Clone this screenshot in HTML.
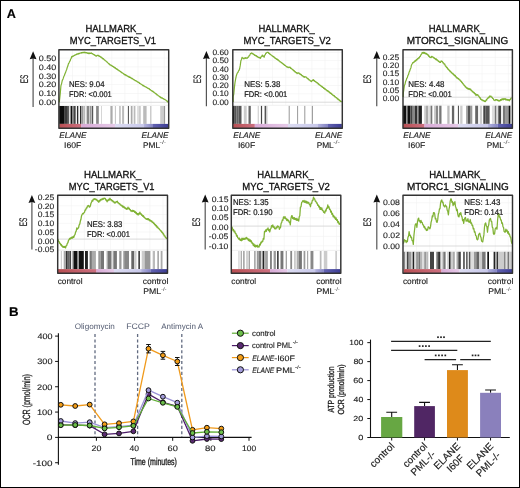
<!DOCTYPE html>
<html><head><meta charset="utf-8"><style>html,body{margin:0;padding:0;background:#fff;width:520px;height:488px;overflow:hidden;}svg{display:block;will-change:transform;}text{font-family:"Liberation Sans", sans-serif;text-rendering:geometricPrecision;}</style></head>
<body>
<svg width="520" height="488" viewBox="0 0 520 488" font-family='"Liberation Sans", sans-serif'>
<rect x="0" y="0" width="520" height="488" fill="#ffffff"/>
<text x="6.88" y="17.60" font-size="12.6" textLength="9.16" lengthAdjust="spacingAndGlyphs" font-weight="bold" fill="#000" stroke="#000" stroke-width="0.15">A</text>
<text x="8.94" y="316.30" font-size="12.6" textLength="9.59" lengthAdjust="spacingAndGlyphs" font-weight="bold" fill="#000" stroke="#000" stroke-width="0.15">B</text>
<path d="M72.5 49.7V105.0 M85.6 49.7V105.0 M98.7 49.7V105.0 M111.8 49.7V105.0 M124.9 49.7V105.0 M138.0 49.7V105.0 M151.1 49.7V105.0 M164.2 49.7V105.0 M58.9 58.1H168.7 M58.9 66.9H168.7 M58.9 75.8H168.7 M58.9 84.6H168.7 M58.9 93.5H168.7" stroke="#f1f1f1" stroke-width="0.6" fill="none"/>
<path d="M58.9 102.3H168.7" stroke="#d2d2d2" stroke-width="0.8"/>
<path d="M58.9 105.4H168.7" stroke="#ececec" stroke-width="0.8"/>
<rect x="59.20" y="106.00" width="5.50" height="17.90" fill="#0a0a0a"/><rect x="64.70" y="106.00" width="3.00" height="17.90" fill="#3a3a3a"/><rect x="67.70" y="106.00" width="1.10" height="17.90" fill="#101010"/><rect x="68.80" y="106.00" width="1.30" height="17.90" fill="#dddddd"/><rect x="70.10" y="106.00" width="0.80" height="17.90" fill="#888888"/><rect x="70.90" y="106.00" width="1.40" height="17.90" fill="#101010"/><rect x="72.30" y="106.00" width="1.60" height="17.90" fill="#777777"/><rect x="73.90" y="106.00" width="1.90" height="17.90" fill="#444444"/><rect x="75.80" y="106.00" width="1.30" height="17.90" fill="#f0f0f0"/><rect x="77.10" y="106.00" width="1.40" height="17.90" fill="#151515"/><rect x="78.50" y="106.00" width="1.60" height="17.90" fill="#f5f5f5"/><rect x="80.10" y="106.00" width="1.10" height="17.90" fill="#151515"/><rect x="81.20" y="106.00" width="2.10" height="17.90" fill="#999999"/><rect x="83.30" y="106.00" width="1.80" height="17.90" fill="#bbbbbb"/><rect x="85.10" y="106.00" width="1.60" height="17.90" fill="#eeeeee"/><rect x="86.70" y="106.00" width="2.40" height="17.90" fill="#888888"/><rect x="89.10" y="106.00" width="0.80" height="17.90" fill="#cccccc"/><rect x="89.90" y="106.00" width="1.10" height="17.90" fill="#999999"/><rect x="91.00" y="106.00" width="1.00" height="17.90" fill="#bbbbbb"/><rect x="92.00" y="106.00" width="1.20" height="17.90" fill="#555555"/><rect x="96.10" y="106.00" width="2.70" height="17.90" fill="#888888"/><rect x="101.00" y="106.00" width="0.80" height="17.90" fill="#cccccc"/><rect x="110.40" y="106.00" width="2.20" height="17.90" fill="#aaaaaa"/><rect x="114.90" y="106.00" width="0.90" height="17.90" fill="#bbbbbb"/><rect x="119.20" y="106.00" width="1.50" height="17.90" fill="#bbbbbb"/><rect x="122.10" y="106.00" width="2.00" height="17.90" fill="#bbbbbb"/><rect x="127.90" y="106.00" width="0.90" height="17.90" fill="#333333"/><rect x="130.80" y="106.00" width="1.70" height="17.90" fill="#aaaaaa"/><rect x="133.70" y="106.00" width="1.70" height="17.90" fill="#bbbbbb"/><rect x="137.10" y="106.00" width="1.80" height="17.90" fill="#dddddd"/><rect x="138.90" y="106.00" width="1.90" height="17.90" fill="#cccccc"/><rect x="143.20" y="106.00" width="3.40" height="17.90" fill="#bbbbbb"/><rect x="150.00" y="106.00" width="1.50" height="17.90" fill="#cccccc"/><rect x="160.20" y="106.00" width="3.60" height="17.90" fill="#cccccc"/><rect x="163.80" y="106.00" width="1.30" height="17.90" fill="#999999"/>
<defs><linearGradient id="g0_0" gradientUnits="userSpaceOnUse" x1="59.20" y1="0" x2="81.40" y2="0"><stop offset="0" stop-color="#b84e52"/><stop offset="1" stop-color="#cc7080"/></linearGradient><linearGradient id="g0_1" gradientUnits="userSpaceOnUse" x1="81.40" y1="0" x2="115.00" y2="0"><stop offset="0" stop-color="#d8aad6"/><stop offset="1" stop-color="#e6cae8"/></linearGradient><linearGradient id="g0_2" gradientUnits="userSpaceOnUse" x1="115.00" y1="0" x2="144.00" y2="0"><stop offset="0" stop-color="#dcdcf2"/><stop offset="1" stop-color="#c8c8ea"/></linearGradient><linearGradient id="g0_3" gradientUnits="userSpaceOnUse" x1="144.00" y1="0" x2="153.00" y2="0"><stop offset="0" stop-color="#b4b4de"/><stop offset="1" stop-color="#8484c4"/></linearGradient><linearGradient id="g0_4" gradientUnits="userSpaceOnUse" x1="153.00" y1="0" x2="168.20" y2="0"><stop offset="0" stop-color="#6464b2"/><stop offset="1" stop-color="#3c3c94"/></linearGradient></defs><rect x="59.20" y="123.90" width="22.25" height="4.40" fill="url(#g0_0)"/><rect x="81.40" y="123.90" width="33.65" height="4.40" fill="url(#g0_1)"/><rect x="115.00" y="123.90" width="29.05" height="4.40" fill="url(#g0_2)"/><rect x="144.00" y="123.90" width="9.05" height="4.40" fill="url(#g0_3)"/><rect x="153.00" y="123.90" width="15.25" height="4.40" fill="url(#g0_4)"/>
<polyline points="59.30,102.30 60.20,94.21 60.90,85.94 61.60,83.59 62.30,80.36 63.05,78.91 63.80,76.58 64.38,75.51 64.95,73.70 65.52,72.66 66.10,70.87 66.67,69.49 67.25,67.45 67.83,66.08 68.40,63.77 68.97,63.12 69.53,61.65 70.10,60.98 70.67,59.00 71.23,58.30 71.80,56.48 72.38,56.77 72.97,55.96 73.55,56.14 74.13,55.30 74.72,55.36 75.30,54.75 75.88,54.88 76.46,54.13 77.04,54.41 77.62,53.75 78.20,54.08 78.78,53.38 79.36,53.66 79.94,53.06 80.52,53.14 81.10,52.62 81.67,53.03 82.23,52.43 82.80,52.80 83.37,52.26 83.93,52.70 84.50,52.20 85.08,52.86 85.67,52.37 86.25,52.99 86.83,52.66 87.42,53.32 88.00,52.86 88.57,53.51 89.13,53.00 89.70,53.57 90.27,53.05 90.83,53.43 91.40,52.89 91.98,53.70 92.57,53.62 93.15,54.33 93.73,54.24 94.32,55.18 94.90,54.93 95.50,55.99 96.10,55.90 96.67,56.10 97.23,55.23 97.80,55.47 98.44,55.36 99.08,56.33 99.72,56.04 100.36,57.04 101.00,56.91 101.62,57.80 102.24,57.82 102.86,58.87 103.48,58.67 104.10,59.83 104.68,59.82 105.26,60.76 105.84,60.77 106.42,61.71 107.00,61.86 107.58,62.79 108.16,62.99 108.74,63.80 109.32,63.86 109.90,64.86 110.52,64.87 111.14,65.64 111.76,65.44 112.38,66.29 113.00,66.26 113.56,67.14 114.11,66.91 114.67,67.96 115.22,67.67 115.78,68.58 116.33,68.54 116.89,69.36 117.44,69.18 118.00,70.26 118.58,70.14 119.15,70.87 119.72,70.92 120.30,71.68 120.88,71.65 121.45,72.57 122.03,72.51 122.60,73.23 123.18,73.27 123.75,74.12 124.33,74.03 124.90,75.06 125.48,74.70 126.07,75.55 126.65,75.32 127.23,76.19 127.82,76.06 128.40,76.85 128.96,76.50 129.51,77.48 130.07,77.14 130.63,78.00 131.18,77.88 131.74,78.57 132.30,78.46 132.85,79.20 133.41,79.24 133.97,79.88 134.52,79.85 135.08,80.55 135.64,80.52 136.19,81.11 136.75,81.14 137.30,81.81 137.85,81.81 138.40,82.52 138.95,82.40 139.50,83.39 140.05,83.31 140.60,84.02 141.15,83.98 141.70,84.77 142.25,84.76 142.80,85.61 143.35,85.27 143.90,86.24 144.48,86.05 145.07,86.75 145.65,86.75 146.23,87.41 146.82,87.31 147.40,88.13 148.00,88.04 148.60,88.75 149.20,88.67 149.80,89.70 150.40,89.69 151.00,90.52 151.60,90.54 152.20,91.34 152.80,91.12 153.40,92.24 153.99,92.05 154.58,92.99 155.18,93.03 155.77,93.87 156.36,93.83 156.95,94.86 157.54,94.73 158.13,95.71 158.72,95.77 159.32,96.73 159.91,96.48 160.50,97.64 161.10,97.27 161.70,98.23 162.30,97.89 162.90,98.68 163.50,98.55 164.10,99.31 164.70,99.27 165.30,99.83 165.88,99.97 166.46,100.81 167.04,100.78 167.62,101.90 168.20,102.00" fill="none" stroke="#80b234" stroke-width="1.2" stroke-linejoin="round"/>
<rect x="58.90" y="49.70" width="109.80" height="78.60" fill="none" stroke="#333" stroke-width="1.45" stroke-linejoin="round"/>
<text x="38.74" y="60.80" font-size="7.9" textLength="17.49" lengthAdjust="spacingAndGlyphs" fill="#262626" stroke="#262626" stroke-width="0.13">0.50</text>
<text x="38.74" y="69.60" font-size="7.9" textLength="17.49" lengthAdjust="spacingAndGlyphs" fill="#262626" stroke="#262626" stroke-width="0.13">0.40</text>
<text x="38.74" y="78.50" font-size="7.9" textLength="17.49" lengthAdjust="spacingAndGlyphs" fill="#262626" stroke="#262626" stroke-width="0.13">0.30</text>
<text x="38.74" y="87.30" font-size="7.9" textLength="17.49" lengthAdjust="spacingAndGlyphs" fill="#262626" stroke="#262626" stroke-width="0.13">0.20</text>
<text x="38.74" y="96.20" font-size="7.9" textLength="17.49" lengthAdjust="spacingAndGlyphs" fill="#262626" stroke="#262626" stroke-width="0.13">0.10</text>
<text x="38.74" y="105.00" font-size="7.9" textLength="17.49" lengthAdjust="spacingAndGlyphs" fill="#262626" stroke="#262626" stroke-width="0.13">0.00</text>
<path d="M33.10 56.50V106.90" stroke="#555" stroke-width="1.2"/>
<path d="M33.10 51.30L36.50 59.30L33.10 58.50L29.70 59.30Z" fill="#111"/>
<text transform="translate(27.69,83.22) rotate(-90)" x="0" y="0" font-size="11.13" textLength="8.64" lengthAdjust="spacingAndGlyphs" fill="#1a1a1a" stroke="#1a1a1a" stroke-width="0.15">ES</text>
<text x="85.44" y="32.00" font-size="10.2" textLength="56.13" lengthAdjust="spacingAndGlyphs" fill="#111" stroke="#111" stroke-width="0.3">HALLMARK_</text>
<text x="69.85" y="43.80" font-size="10.2" textLength="86.18" lengthAdjust="spacingAndGlyphs" fill="#111" stroke="#111" stroke-width="0.3">MYC_TARGETS_V1</text>
<text x="68.98" y="87.20" font-size="8.3" textLength="35.58" lengthAdjust="spacingAndGlyphs" fill="#1a1a1a" stroke="#1a1a1a" stroke-width="0.22">NES: 9.04</text>
<text x="69.00" y="96.70" font-size="8.3" textLength="42.76" lengthAdjust="spacingAndGlyphs" fill="#1a1a1a" stroke="#1a1a1a" stroke-width="0.22">FDR: &lt;0.001</text>
<text x="59.25" y="138.30" font-size="8.3" textLength="27.20" lengthAdjust="spacingAndGlyphs" font-style="italic" fill="#222" stroke="#222" stroke-width="0.14">ELANE</text>
<text x="64.03" y="148.00" font-size="8.3" textLength="17.23" lengthAdjust="spacingAndGlyphs" fill="#222" stroke="#222" stroke-width="0.14">I60F</text>
<text x="141.45" y="138.30" font-size="8.3" textLength="27.10" lengthAdjust="spacingAndGlyphs" font-style="italic" fill="#222" stroke="#222" stroke-width="0.14">ELANE</text>
<text x="143.03" y="148.00" font-size="8.3" textLength="17.13" lengthAdjust="spacingAndGlyphs" fill="#222" stroke="#222" stroke-width="0.14">PML</text>
<text x="159.58" y="143.90" font-size="5.0" textLength="6.62" lengthAdjust="spacingAndGlyphs" fill="#444" stroke="#444" stroke-width="0.02">-/-</text>
<path d="M246.4 49.7V104.9 M259.5 49.7V104.9 M272.6 49.7V104.9 M285.7 49.7V104.9 M298.8 49.7V104.9 M311.9 49.7V104.9 M325.0 49.7V104.9 M338.1 49.7V104.9 M232.8 52.5H342.3 M232.8 60.6H342.3 M232.8 68.9H342.3 M232.8 77.2H342.3 M232.8 85.5H342.3 M232.8 93.8H342.3" stroke="#f1f1f1" stroke-width="0.6" fill="none"/>
<path d="M232.8 102.2H342.3" stroke="#d2d2d2" stroke-width="0.8"/>
<path d="M232.8 105.3H342.3" stroke="#ececec" stroke-width="0.8"/>
<rect x="232.90" y="105.90" width="1.70" height="18.00" fill="#111111"/><rect x="234.60" y="105.90" width="1.70" height="18.00" fill="#555555"/><rect x="236.30" y="105.90" width="2.40" height="18.00" fill="#666666"/><rect x="238.70" y="105.90" width="2.80" height="18.00" fill="#555555"/><rect x="243.80" y="105.90" width="2.90" height="18.00" fill="#cccccc"/><rect x="248.50" y="105.90" width="2.30" height="18.00" fill="#666666"/><rect x="257.70" y="105.90" width="1.10" height="18.00" fill="#cccccc"/><rect x="260.90" y="105.90" width="1.20" height="18.00" fill="#444444"/><rect x="264.60" y="105.90" width="1.70" height="18.00" fill="#555555"/><rect x="266.30" y="105.90" width="1.20" height="18.00" fill="#cccccc"/><rect x="288.70" y="105.90" width="1.00" height="18.00" fill="#999999"/><rect x="297.10" y="105.90" width="1.00" height="18.00" fill="#999999"/><rect x="304.30" y="105.90" width="1.00" height="18.00" fill="#999999"/><rect x="311.80" y="105.90" width="1.00" height="18.00" fill="#888888"/>
<defs><linearGradient id="g1_0" gradientUnits="userSpaceOnUse" x1="232.90" y1="0" x2="254.80" y2="0"><stop offset="0" stop-color="#b84e52"/><stop offset="1" stop-color="#cc7080"/></linearGradient><linearGradient id="g1_1" gradientUnits="userSpaceOnUse" x1="254.80" y1="0" x2="288.00" y2="0"><stop offset="0" stop-color="#d8aad6"/><stop offset="1" stop-color="#e6cae8"/></linearGradient><linearGradient id="g1_2" gradientUnits="userSpaceOnUse" x1="288.00" y1="0" x2="317.40" y2="0"><stop offset="0" stop-color="#dcdcf2"/><stop offset="1" stop-color="#c8c8ea"/></linearGradient><linearGradient id="g1_3" gradientUnits="userSpaceOnUse" x1="317.40" y1="0" x2="327.30" y2="0"><stop offset="0" stop-color="#b4b4de"/><stop offset="1" stop-color="#8484c4"/></linearGradient><linearGradient id="g1_4" gradientUnits="userSpaceOnUse" x1="327.30" y1="0" x2="341.80" y2="0"><stop offset="0" stop-color="#6464b2"/><stop offset="1" stop-color="#3c3c94"/></linearGradient></defs><rect x="232.90" y="123.90" width="21.95" height="4.40" fill="url(#g1_0)"/><rect x="254.80" y="123.90" width="33.25" height="4.40" fill="url(#g1_1)"/><rect x="288.00" y="123.90" width="29.45" height="4.40" fill="url(#g1_2)"/><rect x="317.40" y="123.90" width="9.95" height="4.40" fill="url(#g1_3)"/><rect x="327.30" y="123.90" width="14.55" height="4.40" fill="url(#g1_4)"/>
<polyline points="233.20,102.00 233.20,96.92 233.80,93.86 234.40,87.39 235.00,82.69 235.60,79.08 236.18,76.28 236.75,74.55 237.33,72.92 237.92,72.51 238.50,70.91 239.10,70.29 239.70,68.50 240.30,65.16 240.90,60.70 241.50,59.48 242.10,57.28 242.70,58.06 243.30,58.07 243.90,58.97 244.50,57.95 245.10,58.30 245.70,57.52 246.25,58.33 246.80,58.05 247.40,58.14 248.00,57.10 248.60,57.16 249.20,55.58 249.80,55.20 250.40,53.62 251.00,53.30 251.60,52.89 252.20,53.89 252.80,53.38 253.39,54.29 253.98,54.33 254.57,55.33 255.16,55.00 255.75,55.91 256.34,55.63 256.93,56.74 257.52,56.41 258.11,57.55 258.70,57.26 259.30,57.96 259.90,57.49 260.50,58.29 261.10,56.82 261.70,56.48 262.30,55.04 262.90,56.26 263.50,55.97 264.10,57.30 264.67,55.40 265.23,54.71 265.80,53.10 266.40,53.24 267.00,52.26 267.60,52.37 268.20,52.26 268.80,53.47 269.40,53.29 270.00,54.35 270.60,54.39 271.20,55.25 271.75,55.25 272.31,56.13 272.86,56.02 273.41,56.96 273.97,56.70 274.52,57.92 275.07,57.70 275.63,58.57 276.18,58.50 276.73,59.45 277.29,59.06 277.84,60.11 278.39,59.92 278.95,60.94 279.50,60.95 280.08,61.93 280.65,61.76 281.23,62.66 281.81,62.63 282.38,63.59 282.96,63.55 283.54,64.56 284.12,64.46 284.69,65.51 285.27,65.40 285.85,66.27 286.42,66.37 287.00,67.18 287.60,66.89 288.20,67.66 288.80,67.21 289.40,67.30 289.95,67.08 290.50,68.33 291.05,68.16 291.60,68.93 292.15,69.02 292.70,69.92 293.25,69.78 293.80,70.92 294.35,70.73 294.90,71.87 295.45,71.72 296.00,72.71 296.55,72.54 297.10,73.61 297.70,72.79 298.30,73.14 298.89,72.76 299.48,74.03 300.07,73.70 300.66,74.66 301.25,74.46 301.84,75.62 302.43,75.60 303.02,76.55 303.61,76.36 304.20,77.39 304.80,76.70 305.40,76.89 305.99,76.86 306.58,77.95 307.17,77.95 307.76,78.90 308.35,78.73 308.94,79.94 309.53,79.77 310.12,80.81 310.71,80.76 311.30,81.72 311.90,80.72 312.50,80.65 313.10,79.62 313.66,80.60 314.22,80.31 314.78,81.44 315.34,81.38 315.89,82.24 316.45,82.13 317.01,83.03 317.57,82.84 318.13,84.09 318.69,83.85 319.25,84.95 319.81,84.81 320.36,85.68 320.92,85.59 321.48,86.70 322.04,86.42 322.60,87.35 323.16,87.28 323.72,88.46 324.28,88.08 324.84,89.30 325.39,88.84 325.95,89.92 326.51,89.88 327.07,90.86 327.63,90.52 328.19,91.64 328.75,91.36 329.31,92.62 329.86,92.32 330.42,93.38 330.98,93.03 331.54,94.27 332.10,94.06 332.66,95.16 333.22,95.00 333.78,95.92 334.34,95.67 334.89,96.97 335.45,96.77 336.01,97.71 336.57,97.59 337.13,98.78 337.69,98.47 338.25,99.71 338.81,99.37 339.36,100.58 339.92,100.31 340.48,101.35 341.04,101.27 341.60,102.00" fill="none" stroke="#80b234" stroke-width="1.2" stroke-linejoin="round"/>
<rect x="232.80" y="49.70" width="109.50" height="78.60" fill="none" stroke="#333" stroke-width="1.45" stroke-linejoin="round"/>
<text x="212.46" y="55.10" font-size="7.9" textLength="16.34" lengthAdjust="spacingAndGlyphs" fill="#262626" stroke="#262626" stroke-width="0.13">0.60</text>
<text x="212.46" y="63.30" font-size="7.9" textLength="16.34" lengthAdjust="spacingAndGlyphs" fill="#262626" stroke="#262626" stroke-width="0.13">0.50</text>
<text x="212.46" y="71.60" font-size="7.9" textLength="16.34" lengthAdjust="spacingAndGlyphs" fill="#262626" stroke="#262626" stroke-width="0.13">0.40</text>
<text x="212.46" y="79.90" font-size="7.9" textLength="16.34" lengthAdjust="spacingAndGlyphs" fill="#262626" stroke="#262626" stroke-width="0.13">0.30</text>
<text x="212.46" y="88.20" font-size="7.9" textLength="16.34" lengthAdjust="spacingAndGlyphs" fill="#262626" stroke="#262626" stroke-width="0.13">0.20</text>
<text x="212.46" y="96.40" font-size="7.9" textLength="16.34" lengthAdjust="spacingAndGlyphs" fill="#262626" stroke="#262626" stroke-width="0.13">0.10</text>
<text x="212.46" y="104.70" font-size="7.9" textLength="16.34" lengthAdjust="spacingAndGlyphs" fill="#262626" stroke="#262626" stroke-width="0.13">0.00</text>
<path d="M206.40 56.20V106.30" stroke="#555" stroke-width="1.2"/>
<path d="M206.40 51.00L209.80 59.00L206.40 58.20L203.00 59.00Z" fill="#111"/>
<text transform="translate(200.79,83.31) rotate(-90)" x="0" y="0" font-size="10.85" textLength="8.52" lengthAdjust="spacingAndGlyphs" fill="#1a1a1a" stroke="#1a1a1a" stroke-width="0.15">ES</text>
<text x="258.44" y="32.00" font-size="10.2" textLength="56.33" lengthAdjust="spacingAndGlyphs" fill="#111" stroke="#111" stroke-width="0.3">HALLMARK_</text>
<text x="243.44" y="43.80" font-size="10.2" textLength="87.35" lengthAdjust="spacingAndGlyphs" fill="#111" stroke="#111" stroke-width="0.3">MYC_TARGETS_V2</text>
<text x="244.16" y="86.60" font-size="8.3" textLength="36.28" lengthAdjust="spacingAndGlyphs" fill="#1a1a1a" stroke="#1a1a1a" stroke-width="0.22">NES: 5.38</text>
<text x="244.19" y="96.50" font-size="8.3" textLength="43.16" lengthAdjust="spacingAndGlyphs" fill="#1a1a1a" stroke="#1a1a1a" stroke-width="0.22">FDR: &lt;0.001</text>
<text x="233.15" y="138.30" font-size="8.3" textLength="27.20" lengthAdjust="spacingAndGlyphs" font-style="italic" fill="#222" stroke="#222" stroke-width="0.14">ELANE</text>
<text x="237.93" y="148.00" font-size="8.3" textLength="17.23" lengthAdjust="spacingAndGlyphs" fill="#222" stroke="#222" stroke-width="0.14">I60F</text>
<text x="315.05" y="138.30" font-size="8.3" textLength="27.10" lengthAdjust="spacingAndGlyphs" font-style="italic" fill="#222" stroke="#222" stroke-width="0.14">ELANE</text>
<text x="316.63" y="148.00" font-size="8.3" textLength="17.13" lengthAdjust="spacingAndGlyphs" fill="#222" stroke="#222" stroke-width="0.14">PML</text>
<text x="333.18" y="143.90" font-size="5.0" textLength="6.62" lengthAdjust="spacingAndGlyphs" fill="#444" stroke="#444" stroke-width="0.02">-/-</text>
<path d="M416.6 49.7V104.7 M429.7 49.7V104.7 M442.8 49.7V104.7 M455.9 49.7V104.7 M469.0 49.7V104.7 M482.1 49.7V104.7 M495.2 49.7V104.7 M508.3 49.7V104.7 M403.0 57.4H512.4 M403.0 65.5H512.4 M403.0 73.8H512.4 M403.0 81.9H512.4 M403.0 90.1H512.4" stroke="#f1f1f1" stroke-width="0.6" fill="none"/>
<path d="M403.0 97.2H512.4" stroke="#d2d2d2" stroke-width="0.8"/>
<path d="M403.0 105.1H512.4" stroke="#ececec" stroke-width="0.8"/>
<rect x="402.90" y="105.70" width="3.40" height="18.20" fill="#111111"/><rect x="406.30" y="105.70" width="1.20" height="18.20" fill="#888888"/><rect x="407.50" y="105.70" width="2.90" height="18.20" fill="#111111"/><rect x="410.40" y="105.70" width="2.30" height="18.20" fill="#444444"/><rect x="412.70" y="105.70" width="2.30" height="18.20" fill="#888888"/><rect x="415.00" y="105.70" width="2.30" height="18.20" fill="#333333"/><rect x="417.30" y="105.70" width="1.20" height="18.20" fill="#888888"/><rect x="418.50" y="105.70" width="3.40" height="18.20" fill="#222222"/><rect x="424.20" y="105.70" width="1.80" height="18.20" fill="#cccccc"/><rect x="426.00" y="105.70" width="2.30" height="18.20" fill="#aaaaaa"/><rect x="428.30" y="105.70" width="2.30" height="18.20" fill="#dddddd"/><rect x="430.60" y="105.70" width="1.70" height="18.20" fill="#777777"/><rect x="434.00" y="105.70" width="1.80" height="18.20" fill="#cccccc"/><rect x="435.80" y="105.70" width="2.30" height="18.20" fill="#888888"/><rect x="439.20" y="105.70" width="2.30" height="18.20" fill="#777777"/><rect x="447.30" y="105.70" width="2.30" height="18.20" fill="#bbbbbb"/><rect x="451.90" y="105.70" width="2.30" height="18.20" fill="#666666"/><rect x="457.90" y="105.70" width="1.10" height="18.20" fill="#555555"/><rect x="460.20" y="105.70" width="2.30" height="18.20" fill="#cccccc"/><rect x="466.00" y="105.70" width="1.70" height="18.20" fill="#aaaaaa"/><rect x="467.70" y="105.70" width="2.30" height="18.20" fill="#555555"/><rect x="470.00" y="105.70" width="2.30" height="18.20" fill="#999999"/><rect x="475.20" y="105.70" width="2.90" height="18.20" fill="#666666"/><rect x="479.80" y="105.70" width="2.30" height="18.20" fill="#cccccc"/><rect x="483.30" y="105.70" width="2.30" height="18.20" fill="#444444"/><rect x="485.60" y="105.70" width="4.00" height="18.20" fill="#555555"/><rect x="491.90" y="105.70" width="2.90" height="18.20" fill="#dddddd"/><rect x="494.80" y="105.70" width="1.70" height="18.20" fill="#777777"/><rect x="496.50" y="105.70" width="1.80" height="18.20" fill="#dddddd"/><rect x="498.30" y="105.70" width="2.80" height="18.20" fill="#444444"/><rect x="502.90" y="105.70" width="2.80" height="18.20" fill="#777777"/><rect x="505.70" y="105.70" width="2.90" height="18.20" fill="#999999"/><rect x="508.60" y="105.70" width="1.80" height="18.20" fill="#111111"/>
<defs><linearGradient id="g2_0" gradientUnits="userSpaceOnUse" x1="402.90" y1="0" x2="424.50" y2="0"><stop offset="0" stop-color="#b84e52"/><stop offset="1" stop-color="#cc7080"/></linearGradient><linearGradient id="g2_1" gradientUnits="userSpaceOnUse" x1="424.50" y1="0" x2="458.60" y2="0"><stop offset="0" stop-color="#d8aad6"/><stop offset="1" stop-color="#e6cae8"/></linearGradient><linearGradient id="g2_2" gradientUnits="userSpaceOnUse" x1="458.60" y1="0" x2="488.00" y2="0"><stop offset="0" stop-color="#dcdcf2"/><stop offset="1" stop-color="#c8c8ea"/></linearGradient><linearGradient id="g2_3" gradientUnits="userSpaceOnUse" x1="488.00" y1="0" x2="497.70" y2="0"><stop offset="0" stop-color="#b4b4de"/><stop offset="1" stop-color="#8484c4"/></linearGradient><linearGradient id="g2_4" gradientUnits="userSpaceOnUse" x1="497.70" y1="0" x2="512.10" y2="0"><stop offset="0" stop-color="#6464b2"/><stop offset="1" stop-color="#3c3c94"/></linearGradient></defs><rect x="402.90" y="123.90" width="21.65" height="4.40" fill="url(#g2_0)"/><rect x="424.50" y="123.90" width="34.15" height="4.40" fill="url(#g2_1)"/><rect x="458.60" y="123.90" width="29.45" height="4.40" fill="url(#g2_2)"/><rect x="488.00" y="123.90" width="9.75" height="4.40" fill="url(#g2_3)"/><rect x="497.70" y="123.90" width="14.45" height="4.40" fill="url(#g2_4)"/>
<polyline points="403.20,97.00 403.40,92.33 404.40,85.61 405.00,84.32 405.60,81.45 406.20,80.33 406.77,78.15 407.35,77.73 407.93,75.34 408.50,74.57 409.10,72.03 409.70,71.21 410.30,69.00 410.90,67.94 411.50,64.97 412.10,63.95 412.70,62.64 413.30,62.81 413.90,61.75 414.50,62.01 415.10,60.46 415.68,61.14 416.25,59.63 416.82,60.15 417.40,58.74 418.00,58.97 418.60,57.74 419.20,58.03 419.80,56.35 420.40,56.29 421.00,54.59 421.60,54.17 422.20,52.48 422.80,53.22 423.40,52.34 424.00,53.31 424.58,52.48 425.17,53.82 425.75,53.05 426.34,54.15 426.93,53.75 427.51,54.89 428.10,54.68 428.70,56.33 429.30,56.02 429.90,57.39 430.50,57.22 431.10,57.69 431.70,56.27 432.30,56.92 432.90,56.87 433.50,57.86 434.10,57.63 434.68,58.69 435.26,58.56 435.84,59.63 436.42,58.90 437.00,60.31 437.60,59.98 438.20,61.37 438.80,61.07 439.40,62.31 440.00,62.00 440.60,62.40 441.20,60.84 441.80,61.35 442.39,61.33 442.98,63.00 443.57,62.91 444.16,64.25 444.75,63.93 445.34,66.11 445.93,66.00 446.52,67.66 447.11,67.31 447.70,69.13 448.30,68.89 448.90,70.22 449.50,70.17 450.10,71.67 450.70,71.24 451.30,72.89 451.90,72.64 452.47,73.81 453.03,73.35 453.60,74.99 454.17,74.61 454.73,75.97 455.30,75.43 455.87,77.12 456.43,76.93 457.00,78.28 457.60,77.78 458.20,79.02 458.80,78.73 459.40,79.92 459.98,79.83 460.56,81.16 461.14,81.09 461.72,82.57 462.30,82.42 462.90,83.94 463.50,83.82 464.10,85.69 464.70,85.35 465.30,87.04 465.90,86.86 466.50,88.21 467.10,87.68 467.70,88.88 468.30,88.34 468.90,89.41 469.50,88.61 470.10,89.61 470.68,89.19 471.26,90.69 471.84,90.44 472.42,91.92 473.00,91.56 473.60,92.75 474.20,92.44 474.80,94.00 475.40,93.65 476.00,95.57 476.60,94.40 477.20,95.13 477.80,94.65 478.39,96.06 478.98,96.18 479.57,97.92 480.16,97.60 480.75,99.48 481.34,99.17 481.93,100.30 482.52,99.89 483.11,100.80 483.70,100.42 484.30,101.54 484.90,100.85 485.50,101.63 486.10,99.83 486.70,100.12 487.30,98.33 487.90,98.52 488.50,97.15 489.10,97.55 489.70,95.98 490.30,96.72 490.87,96.05 491.43,97.17 492.00,97.05 492.60,98.51 493.20,98.50 493.80,100.06 494.40,100.04 495.00,100.68 495.60,99.57 496.20,99.93 496.80,99.64 497.40,100.61 498.00,99.94 498.60,101.06 499.20,100.60 499.77,101.04 500.35,99.65 500.93,100.47 501.50,99.05 502.10,99.76 502.70,98.67 503.30,99.79 503.90,98.51 504.50,99.26 505.10,98.56 505.70,99.88 506.30,99.22 506.90,100.21 507.50,99.38 508.10,100.36 508.70,99.60 509.30,100.85 509.88,99.43 510.45,99.64 511.03,98.07 511.60,97.90" fill="none" stroke="#80b234" stroke-width="1.2" stroke-linejoin="round"/>
<rect x="403.00" y="49.70" width="109.40" height="78.60" fill="none" stroke="#333" stroke-width="1.45" stroke-linejoin="round"/>
<text x="382.70" y="60.00" font-size="7.9" textLength="16.44" lengthAdjust="spacingAndGlyphs" fill="#262626" stroke="#262626" stroke-width="0.13">0.25</text>
<text x="382.66" y="68.20" font-size="7.9" textLength="16.44" lengthAdjust="spacingAndGlyphs" fill="#262626" stroke="#262626" stroke-width="0.13">0.20</text>
<text x="382.70" y="76.40" font-size="7.9" textLength="16.44" lengthAdjust="spacingAndGlyphs" fill="#262626" stroke="#262626" stroke-width="0.13">0.15</text>
<text x="382.66" y="84.60" font-size="7.9" textLength="16.44" lengthAdjust="spacingAndGlyphs" fill="#262626" stroke="#262626" stroke-width="0.13">0.10</text>
<text x="382.70" y="92.80" font-size="7.9" textLength="16.44" lengthAdjust="spacingAndGlyphs" fill="#262626" stroke="#262626" stroke-width="0.13">0.05</text>
<text x="382.66" y="101.00" font-size="7.9" textLength="16.44" lengthAdjust="spacingAndGlyphs" fill="#262626" stroke="#262626" stroke-width="0.13">0.00</text>
<path d="M376.75 56.20V106.30" stroke="#555" stroke-width="1.2"/>
<path d="M376.75 51.00L380.15 59.00L376.75 58.20L373.35 59.00Z" fill="#111"/>
<text transform="translate(371.19,83.32) rotate(-90)" x="0" y="0" font-size="10.99" textLength="8.64" lengthAdjust="spacingAndGlyphs" fill="#1a1a1a" stroke="#1a1a1a" stroke-width="0.15">ES</text>
<text x="428.64" y="32.00" font-size="10.2" textLength="56.44" lengthAdjust="spacingAndGlyphs" fill="#111" stroke="#111" stroke-width="0.3">HALLMARK_</text>
<text x="406.70" y="43.80" font-size="10.2" textLength="101.61" lengthAdjust="spacingAndGlyphs" fill="#111" stroke="#111" stroke-width="0.3">MTORC1_SIGNALING</text>
<text x="408.26" y="86.60" font-size="8.3" textLength="36.28" lengthAdjust="spacingAndGlyphs" fill="#1a1a1a" stroke="#1a1a1a" stroke-width="0.22">NES: 4.48</text>
<text x="408.29" y="96.50" font-size="8.3" textLength="43.37" lengthAdjust="spacingAndGlyphs" fill="#1a1a1a" stroke="#1a1a1a" stroke-width="0.22">FDR: &lt;0.001</text>
<text x="403.35" y="138.30" font-size="8.3" textLength="27.20" lengthAdjust="spacingAndGlyphs" font-style="italic" fill="#222" stroke="#222" stroke-width="0.14">ELANE</text>
<text x="408.13" y="148.00" font-size="8.3" textLength="17.23" lengthAdjust="spacingAndGlyphs" fill="#222" stroke="#222" stroke-width="0.14">I60F</text>
<text x="485.15" y="138.30" font-size="8.3" textLength="27.10" lengthAdjust="spacingAndGlyphs" font-style="italic" fill="#222" stroke="#222" stroke-width="0.14">ELANE</text>
<text x="486.73" y="148.00" font-size="8.3" textLength="17.13" lengthAdjust="spacingAndGlyphs" fill="#222" stroke="#222" stroke-width="0.14">PML</text>
<text x="503.28" y="143.90" font-size="5.0" textLength="6.62" lengthAdjust="spacingAndGlyphs" fill="#444" stroke="#444" stroke-width="0.02">-/-</text>
<path d="M71.3 195.3V250.0 M84.4 195.3V250.0 M97.5 195.3V250.0 M110.6 195.3V250.0 M123.7 195.3V250.0 M136.8 195.3V250.0 M149.9 195.3V250.0 M163.0 195.3V250.0 M57.7 197.0H167.5 M57.7 205.8H167.5 M57.7 214.5H167.5 M57.7 223.3H167.5 M57.7 232.0H167.5 M57.7 249.5H167.5" stroke="#f1f1f1" stroke-width="0.6" fill="none"/>
<path d="M57.7 239.1H167.5" stroke="#d2d2d2" stroke-width="0.8"/>
<path d="M57.7 250.4H167.5" stroke="#ececec" stroke-width="0.8"/>
<rect x="60.80" y="251.00" width="1.10" height="18.10" fill="#cccccc"/><rect x="63.70" y="251.00" width="2.30" height="18.10" fill="#aaaaaa"/><rect x="66.00" y="251.00" width="1.70" height="18.10" fill="#333333"/><rect x="67.70" y="251.00" width="1.70" height="18.10" fill="#666666"/><rect x="69.40" y="251.00" width="1.70" height="18.10" fill="#444444"/><rect x="72.30" y="251.00" width="1.20" height="18.10" fill="#999999"/><rect x="73.50" y="251.00" width="4.00" height="18.10" fill="#111111"/><rect x="78.60" y="251.00" width="5.20" height="18.10" fill="#111111"/><rect x="85.00" y="251.00" width="2.90" height="18.10" fill="#222222"/><rect x="89.60" y="251.00" width="2.30" height="18.10" fill="#777777"/><rect x="91.90" y="251.00" width="4.00" height="18.10" fill="#aaaaaa"/><rect x="98.30" y="251.00" width="2.30" height="18.10" fill="#999999"/><rect x="100.60" y="251.00" width="3.40" height="18.10" fill="#777777"/><rect x="106.30" y="251.00" width="1.20" height="18.10" fill="#cccccc"/><rect x="107.50" y="251.00" width="4.00" height="18.10" fill="#777777"/><rect x="112.70" y="251.00" width="0.80" height="18.10" fill="#999999"/><rect x="113.50" y="251.00" width="3.40" height="18.10" fill="#777777"/><rect x="119.20" y="251.00" width="2.30" height="18.10" fill="#999999"/><rect x="123.30" y="251.00" width="1.70" height="18.10" fill="#999999"/><rect x="125.00" y="251.00" width="4.00" height="18.10" fill="#888888"/><rect x="131.30" y="251.00" width="2.90" height="18.10" fill="#666666"/><rect x="134.20" y="251.00" width="2.30" height="18.10" fill="#cccccc"/><rect x="138.30" y="251.00" width="1.70" height="18.10" fill="#444444"/><rect x="141.70" y="251.00" width="2.90" height="18.10" fill="#cccccc"/><rect x="144.60" y="251.00" width="5.80" height="18.10" fill="#999999"/><rect x="152.70" y="251.00" width="2.30" height="18.10" fill="#bbbbbb"/><rect x="157.30" y="251.00" width="1.70" height="18.10" fill="#aaaaaa"/><rect x="160.70" y="251.00" width="1.80" height="18.10" fill="#aaaaaa"/>
<defs><linearGradient id="g3_0" gradientUnits="userSpaceOnUse" x1="57.90" y1="0" x2="96.50" y2="0"><stop offset="0" stop-color="#b84e52"/><stop offset="1" stop-color="#cc7080"/></linearGradient><linearGradient id="g3_1" gradientUnits="userSpaceOnUse" x1="96.50" y1="0" x2="114.00" y2="0"><stop offset="0" stop-color="#d8aad6"/><stop offset="1" stop-color="#e6cae8"/></linearGradient><linearGradient id="g3_2" gradientUnits="userSpaceOnUse" x1="114.00" y1="0" x2="141.10" y2="0"><stop offset="0" stop-color="#dcdcf2"/><stop offset="1" stop-color="#c8c8ea"/></linearGradient><linearGradient id="g3_3" gradientUnits="userSpaceOnUse" x1="141.10" y1="0" x2="150.40" y2="0"><stop offset="0" stop-color="#b4b4de"/><stop offset="1" stop-color="#8484c4"/></linearGradient><linearGradient id="g3_4" gradientUnits="userSpaceOnUse" x1="150.40" y1="0" x2="167.10" y2="0"><stop offset="0" stop-color="#6464b2"/><stop offset="1" stop-color="#3c3c94"/></linearGradient></defs><rect x="57.90" y="269.10" width="38.65" height="4.20" fill="url(#g3_0)"/><rect x="96.50" y="269.10" width="17.55" height="4.20" fill="url(#g3_1)"/><rect x="114.00" y="269.10" width="27.15" height="4.20" fill="url(#g3_2)"/><rect x="141.10" y="269.10" width="9.35" height="4.20" fill="url(#g3_3)"/><rect x="150.40" y="269.10" width="16.75" height="4.20" fill="url(#g3_4)"/>
<polyline points="57.90,239.10 58.40,241.44 58.99,241.34 59.58,243.24 60.16,243.25 60.75,245.16 61.34,244.44 61.92,246.28 62.51,245.97 63.10,247.41 63.70,246.56 64.30,247.42 64.90,246.40 65.50,247.95 66.10,245.83 66.70,245.68 67.30,243.35 67.90,242.74 68.50,240.31 69.10,239.69 69.67,238.32 70.25,239.09 70.83,237.62 71.40,238.22 72.00,236.99 72.60,238.09 73.20,236.34 73.80,237.36 74.40,235.33 75.00,234.65 75.60,232.08 76.20,231.12 76.80,228.00 77.40,229.13 78.00,228.30 78.58,227.64 79.17,224.94 79.75,224.17 80.34,221.04 80.92,219.49 81.51,215.90 82.10,214.53 82.70,213.44 83.30,213.86 83.90,212.73 84.50,212.30 85.10,209.94 85.70,209.98 86.30,207.86 86.90,208.03 87.50,206.00 88.10,205.83 88.67,205.46 89.23,207.05 89.80,206.79 90.40,205.94 91.00,203.20 91.60,202.03 92.20,200.32 92.80,200.97 93.40,199.06 94.00,199.26 94.60,198.65 95.20,199.64 95.80,198.92 96.40,200.04 97.00,199.89 97.60,201.18 98.20,200.87 98.80,202.27 99.37,200.44 99.93,201.14 100.50,199.41 101.10,200.10 101.70,198.98 102.30,199.48 102.90,198.39 103.50,199.15 104.10,198.06 104.70,198.49 105.30,198.45 105.90,200.19 106.50,199.93 107.10,201.78 107.68,200.05 108.26,200.55 108.84,199.21 109.42,199.97 110.00,198.29 110.67,199.92 111.33,199.65 112.00,200.99 112.60,200.50 113.20,201.91 113.80,201.48 114.40,202.96 115.00,202.38 115.58,202.89 116.17,201.57 116.75,201.87 117.34,201.22 117.93,202.96 118.53,202.78 119.12,203.85 119.71,203.63 120.30,204.98 120.90,204.80 121.50,205.80 122.10,205.42 122.70,207.05 123.30,206.21 123.90,207.58 124.48,207.05 125.06,208.44 125.64,207.89 126.22,209.39 126.80,208.50 127.40,209.05 128.00,207.24 128.60,208.86 129.20,208.16 129.80,209.78 130.40,209.66 131.00,211.18 131.60,210.61 132.20,211.57 132.80,210.26 133.40,211.26 133.99,210.64 134.57,212.30 135.16,211.44 135.75,213.17 136.34,212.55 136.93,214.36 137.51,213.58 138.10,215.07 138.70,213.43 139.30,214.10 139.90,212.07 140.49,214.15 141.08,213.63 141.67,215.22 142.26,214.92 142.85,216.40 143.44,215.75 144.03,217.42 144.62,217.26 145.21,218.58 145.80,218.55 146.40,219.25 147.00,218.60 147.60,219.65 148.20,218.58 148.80,220.13 149.40,219.40 150.00,221.00 150.60,220.26 151.20,221.61 151.80,220.94 152.40,222.43 152.98,222.12 153.57,223.53 154.15,223.14 154.73,224.86 155.32,224.55 155.90,226.05 156.50,225.46 157.10,227.49 157.70,226.87 158.30,228.39 158.90,228.29 159.50,229.69 160.10,229.77 160.70,231.08 161.30,230.87 161.90,232.63 162.49,232.30 163.07,234.12 163.66,233.99 164.25,235.95 164.84,235.81 165.43,237.56 166.01,237.57 166.60,238.90" fill="none" stroke="#80b234" stroke-width="1.3" stroke-linejoin="round"/>
<rect x="57.70" y="195.30" width="109.80" height="78.00" fill="none" stroke="#333" stroke-width="1.45" stroke-linejoin="round"/>
<text x="37.70" y="199.70" font-size="7.9" textLength="16.55" lengthAdjust="spacingAndGlyphs" fill="#262626" stroke="#262626" stroke-width="0.13">0.25</text>
<text x="37.66" y="208.50" font-size="7.9" textLength="16.55" lengthAdjust="spacingAndGlyphs" fill="#262626" stroke="#262626" stroke-width="0.13">0.20</text>
<text x="37.70" y="217.20" font-size="7.9" textLength="16.55" lengthAdjust="spacingAndGlyphs" fill="#262626" stroke="#262626" stroke-width="0.13">0.15</text>
<text x="37.66" y="226.00" font-size="7.9" textLength="16.55" lengthAdjust="spacingAndGlyphs" fill="#262626" stroke="#262626" stroke-width="0.13">0.10</text>
<text x="37.70" y="234.70" font-size="7.9" textLength="16.55" lengthAdjust="spacingAndGlyphs" fill="#262626" stroke="#262626" stroke-width="0.13">0.05</text>
<text x="37.66" y="243.50" font-size="7.9" textLength="16.55" lengthAdjust="spacingAndGlyphs" fill="#262626" stroke="#262626" stroke-width="0.13">0.00</text>
<text x="34.85" y="252.20" font-size="7.9" textLength="19.38" lengthAdjust="spacingAndGlyphs" fill="#262626" stroke="#262626" stroke-width="0.13">-0.05</text>
<path d="M31.90 200.10V249.50" stroke="#555" stroke-width="1.2"/>
<path d="M31.90 194.90L35.30 202.90L31.90 202.10L28.50 202.90Z" fill="#111"/>
<text transform="translate(26.59,226.32) rotate(-90)" x="0" y="0" font-size="10.99" textLength="8.75" lengthAdjust="spacingAndGlyphs" fill="#1a1a1a" stroke="#1a1a1a" stroke-width="0.15">ES</text>
<text x="83.98" y="177.80" font-size="10.2" textLength="57.30" lengthAdjust="spacingAndGlyphs" fill="#111" stroke="#111" stroke-width="0.3">HALLMARK_</text>
<text x="68.86" y="189.80" font-size="10.2" textLength="85.68" lengthAdjust="spacingAndGlyphs" fill="#111" stroke="#111" stroke-width="0.3">MYC_TARGETS_V1</text>
<text x="86.88" y="226.90" font-size="8.3" textLength="35.56" lengthAdjust="spacingAndGlyphs" fill="#1a1a1a" stroke="#1a1a1a" stroke-width="0.22">NES: 3.83</text>
<text x="86.90" y="236.80" font-size="8.3" textLength="43.06" lengthAdjust="spacingAndGlyphs" fill="#1a1a1a" stroke="#1a1a1a" stroke-width="0.22">FDR: &lt;0.001</text>
<text x="57.67" y="283.60" font-size="8.3" textLength="24.88" lengthAdjust="spacingAndGlyphs" fill="#222" stroke="#222" stroke-width="0.14">control</text>
<text x="142.86" y="283.60" font-size="8.3" textLength="25.40" lengthAdjust="spacingAndGlyphs" fill="#222" stroke="#222" stroke-width="0.14">control</text>
<text x="143.20" y="294.10" font-size="8.3" textLength="17.87" lengthAdjust="spacingAndGlyphs" fill="#222" stroke="#222" stroke-width="0.14">PML</text>
<text x="160.93" y="290.80" font-size="5.0" textLength="5.63" lengthAdjust="spacingAndGlyphs" fill="#444" stroke="#444" stroke-width="0.02">-/-</text>
<path d="M244.9 195.3V250.0 M258.0 195.3V250.0 M271.1 195.3V250.0 M284.2 195.3V250.0 M297.3 195.3V250.0 M310.4 195.3V250.0 M323.5 195.3V250.0 M336.6 195.3V250.0 M231.3 198.8H340.8 M231.3 208.2H340.8 M231.3 217.7H340.8 M231.3 236.4H340.8 M231.3 245.8H340.8" stroke="#f1f1f1" stroke-width="0.6" fill="none"/>
<path d="M231.3 226.1H340.8" stroke="#d2d2d2" stroke-width="0.8"/>
<path d="M231.3 250.4H340.8" stroke="#ececec" stroke-width="0.8"/>
<rect x="238.40" y="251.00" width="1.10" height="18.10" fill="#cccccc"/><rect x="240.70" y="251.00" width="1.10" height="18.10" fill="#999999"/><rect x="243.00" y="251.00" width="1.70" height="18.10" fill="#aaaaaa"/><rect x="246.50" y="251.00" width="1.10" height="18.10" fill="#aaaaaa"/><rect x="247.60" y="251.00" width="1.20" height="18.10" fill="#dddddd"/><rect x="248.80" y="251.00" width="1.10" height="18.10" fill="#999999"/><rect x="254.00" y="251.00" width="1.70" height="18.10" fill="#aaaaaa"/><rect x="256.80" y="251.00" width="1.80" height="18.10" fill="#999999"/><rect x="258.60" y="251.00" width="2.80" height="18.10" fill="#777777"/><rect x="261.40" y="251.00" width="1.20" height="18.10" fill="#dddddd"/><rect x="262.60" y="251.00" width="1.70" height="18.10" fill="#222222"/><rect x="264.30" y="251.00" width="1.80" height="18.10" fill="#aaaaaa"/><rect x="266.10" y="251.00" width="1.70" height="18.10" fill="#999999"/><rect x="270.10" y="251.00" width="1.70" height="18.10" fill="#777777"/><rect x="273.60" y="251.00" width="2.30" height="18.10" fill="#999999"/><rect x="277.00" y="251.00" width="1.70" height="18.10" fill="#444444"/><rect x="280.50" y="251.00" width="2.90" height="18.10" fill="#777777"/><rect x="285.70" y="251.00" width="1.20" height="18.10" fill="#999999"/><rect x="290.30" y="251.00" width="1.80" height="18.10" fill="#888888"/><rect x="294.40" y="251.00" width="1.10" height="18.10" fill="#aaaaaa"/><rect x="296.70" y="251.00" width="1.10" height="18.10" fill="#999999"/><rect x="298.40" y="251.00" width="3.50" height="18.10" fill="#777777"/><rect x="303.60" y="251.00" width="1.70" height="18.10" fill="#999999"/><rect x="307.00" y="251.00" width="1.20" height="18.10" fill="#aaaaaa"/><rect x="310.50" y="251.00" width="2.90" height="18.10" fill="#888888"/><rect x="319.80" y="251.00" width="1.70" height="18.10" fill="#bbbbbb"/><rect x="323.80" y="251.00" width="3.50" height="18.10" fill="#cccccc"/><rect x="335.30" y="251.00" width="1.70" height="18.10" fill="#cccccc"/>
<defs><linearGradient id="g4_0" gradientUnits="userSpaceOnUse" x1="231.50" y1="0" x2="270.10" y2="0"><stop offset="0" stop-color="#b84e52"/><stop offset="1" stop-color="#cc7080"/></linearGradient><linearGradient id="g4_1" gradientUnits="userSpaceOnUse" x1="270.10" y1="0" x2="287.50" y2="0"><stop offset="0" stop-color="#d8aad6"/><stop offset="1" stop-color="#e6cae8"/></linearGradient><linearGradient id="g4_2" gradientUnits="userSpaceOnUse" x1="287.50" y1="0" x2="315.10" y2="0"><stop offset="0" stop-color="#dcdcf2"/><stop offset="1" stop-color="#c8c8ea"/></linearGradient><linearGradient id="g4_3" gradientUnits="userSpaceOnUse" x1="315.10" y1="0" x2="323.80" y2="0"><stop offset="0" stop-color="#b4b4de"/><stop offset="1" stop-color="#8484c4"/></linearGradient><linearGradient id="g4_4" gradientUnits="userSpaceOnUse" x1="323.80" y1="0" x2="340.50" y2="0"><stop offset="0" stop-color="#6464b2"/><stop offset="1" stop-color="#3c3c94"/></linearGradient></defs><rect x="231.50" y="269.10" width="38.65" height="4.20" fill="url(#g4_0)"/><rect x="270.10" y="269.10" width="17.45" height="4.20" fill="url(#g4_1)"/><rect x="287.50" y="269.10" width="27.65" height="4.20" fill="url(#g4_2)"/><rect x="315.10" y="269.10" width="8.75" height="4.20" fill="url(#g4_3)"/><rect x="323.80" y="269.10" width="16.75" height="4.20" fill="url(#g4_4)"/>
<polyline points="231.60,226.10 231.80,228.66 232.40,227.87 233.00,230.68 233.60,229.59 234.20,231.99 234.80,231.13 235.38,233.65 235.97,233.39 236.55,236.20 237.13,235.37 237.72,237.98 238.30,237.96 238.90,239.37 239.50,238.15 240.10,240.45 240.70,239.37 241.30,240.79 241.90,238.23 242.50,240.12 243.10,238.16 243.70,239.43 244.30,238.34 244.90,239.42 245.47,237.95 246.03,238.75 246.60,237.41 247.20,239.02 247.80,238.43 248.40,240.55 249.00,239.03 249.60,241.22 250.20,239.79 250.80,241.80 251.40,240.89 252.00,243.41 252.60,242.84 253.20,245.48 253.80,243.90 254.40,246.57 255.00,244.93 255.60,246.95 256.17,245.52 256.73,246.53 257.30,245.24 257.90,247.31 258.50,246.18 259.10,246.98 259.70,244.19 260.30,245.07 260.90,242.06 261.50,242.77 262.10,241.03 262.70,241.53 263.30,238.42 263.90,239.18 264.50,231.28 265.10,231.89 265.70,229.96 266.30,231.32 266.87,229.08 267.43,229.57 268.00,227.83 268.60,230.67 269.20,229.49 269.80,231.99 270.40,229.10 271.00,228.38 271.60,225.65 272.20,226.84 272.80,224.96 273.40,227.25 274.00,226.54 274.60,228.75 275.20,228.11 275.80,229.00 276.40,226.99 277.00,227.79 277.60,225.96 278.20,226.67 278.80,226.48 279.40,229.28 280.00,228.06 280.57,227.38 281.13,223.26 281.70,222.57 282.30,219.88 282.90,220.28 283.50,216.89 284.25,218.28 285.00,216.61 285.60,218.94 286.20,218.33 286.80,220.52 287.40,219.24 288.00,220.94 288.60,220.24 289.17,222.37 289.73,222.23 290.30,224.89 290.90,218.97 291.50,216.10 292.10,215.60 292.70,218.50 293.30,217.51 293.90,219.36 294.50,217.61 295.10,219.45 295.70,218.58 296.30,220.43 296.90,218.45 297.50,220.30 298.10,219.35 298.70,221.09 299.25,216.60 299.80,215.96 300.40,207.14 301.00,207.01 301.60,202.62 302.20,201.84 302.80,200.77 303.40,201.83 304.00,200.38 304.60,202.29 305.20,200.94 305.80,202.71 306.40,201.24 307.00,203.28 307.60,201.87 308.20,203.14 308.77,202.45 309.35,204.71 309.93,204.49 310.50,206.75 311.10,203.16 311.70,203.47 312.30,200.30 312.90,200.39 313.50,197.04 314.10,199.00 314.70,198.95 315.30,201.31 315.90,201.08 316.50,203.06 317.10,202.80 317.68,205.32 318.26,204.91 318.84,207.07 319.42,206.23 320.00,209.48 320.60,207.54 321.20,209.59 321.80,207.93 322.40,210.36 323.00,210.47 323.60,212.36 324.20,211.87 324.80,213.16 325.40,210.23 326.00,211.02 326.60,208.12 327.20,208.25 327.80,204.92 328.38,207.58 328.95,206.75 329.53,209.44 330.10,209.16 330.70,212.09 331.30,211.08 331.90,214.29 332.50,213.44 333.10,216.53 333.70,215.47 334.30,217.86 334.90,216.80 335.50,219.45 336.10,217.80 336.69,220.49 337.27,219.58 337.86,222.56 338.44,221.47 339.03,224.09 339.61,223.34 340.20,224.90" fill="none" stroke="#80b234" stroke-width="1.25" stroke-linejoin="round"/>
<rect x="231.30" y="195.30" width="109.50" height="78.00" fill="none" stroke="#333" stroke-width="1.45" stroke-linejoin="round"/>
<text x="211.70" y="201.50" font-size="7.9" textLength="16.76" lengthAdjust="spacingAndGlyphs" fill="#262626" stroke="#262626" stroke-width="0.13">0.15</text>
<text x="211.66" y="210.90" font-size="7.9" textLength="16.76" lengthAdjust="spacingAndGlyphs" fill="#262626" stroke="#262626" stroke-width="0.13">0.10</text>
<text x="211.70" y="220.30" font-size="7.9" textLength="16.76" lengthAdjust="spacingAndGlyphs" fill="#262626" stroke="#262626" stroke-width="0.13">0.05</text>
<text x="211.66" y="229.70" font-size="7.9" textLength="16.76" lengthAdjust="spacingAndGlyphs" fill="#262626" stroke="#262626" stroke-width="0.13">0.00</text>
<text x="208.81" y="239.10" font-size="7.9" textLength="19.62" lengthAdjust="spacingAndGlyphs" fill="#262626" stroke="#262626" stroke-width="0.13">-0.05</text>
<text x="208.77" y="248.50" font-size="7.9" textLength="19.62" lengthAdjust="spacingAndGlyphs" fill="#262626" stroke="#262626" stroke-width="0.13">-0.10</text>
<path d="M205.20 199.70V249.50" stroke="#555" stroke-width="1.2"/>
<path d="M205.20 194.50L208.60 202.50L205.20 201.70L201.80 202.50Z" fill="#111"/>
<text transform="translate(199.89,226.32) rotate(-90)" x="0" y="0" font-size="10.99" textLength="8.75" lengthAdjust="spacingAndGlyphs" fill="#1a1a1a" stroke="#1a1a1a" stroke-width="0.15">ES</text>
<text x="257.34" y="177.50" font-size="10.2" textLength="56.44" lengthAdjust="spacingAndGlyphs" fill="#111" stroke="#111" stroke-width="0.3">HALLMARK_</text>
<text x="242.34" y="189.70" font-size="10.2" textLength="87.45" lengthAdjust="spacingAndGlyphs" fill="#111" stroke="#111" stroke-width="0.3">MYC_TARGETS_V2</text>
<text x="232.97" y="205.10" font-size="8.3" textLength="35.66" lengthAdjust="spacingAndGlyphs" fill="#1a1a1a" stroke="#1a1a1a" stroke-width="0.22">NES: 1.35</text>
<text x="232.98" y="215.00" font-size="8.3" textLength="39.51" lengthAdjust="spacingAndGlyphs" fill="#1a1a1a" stroke="#1a1a1a" stroke-width="0.22">FDR: 0.190</text>
<text x="231.27" y="283.60" font-size="8.3" textLength="24.88" lengthAdjust="spacingAndGlyphs" fill="#222" stroke="#222" stroke-width="0.14">control</text>
<text x="316.16" y="283.60" font-size="8.3" textLength="25.40" lengthAdjust="spacingAndGlyphs" fill="#222" stroke="#222" stroke-width="0.14">control</text>
<text x="316.50" y="294.10" font-size="8.3" textLength="17.87" lengthAdjust="spacingAndGlyphs" fill="#222" stroke="#222" stroke-width="0.14">PML</text>
<text x="334.23" y="290.80" font-size="5.0" textLength="5.63" lengthAdjust="spacingAndGlyphs" fill="#444" stroke="#444" stroke-width="0.02">-/-</text>
<path d="M416.6 195.3V250.8 M429.7 195.3V250.8 M442.8 195.3V250.8 M455.9 195.3V250.8 M469.0 195.3V250.8 M482.1 195.3V250.8 M495.2 195.3V250.8 M508.3 195.3V250.8 M403.0 202.7H512.5 M403.0 213.4H512.5 M403.0 224.4H512.5 M403.0 235.3H512.5" stroke="#f1f1f1" stroke-width="0.6" fill="none"/>
<path d="M403.0 246.0H512.5" stroke="#d2d2d2" stroke-width="0.8"/>
<path d="M403.0 251.2H512.5" stroke="#ececec" stroke-width="0.8"/>
<rect x="403.50" y="251.80" width="1.70" height="17.30" fill="#888888"/><rect x="405.20" y="251.80" width="1.70" height="17.30" fill="#dddddd"/><rect x="406.90" y="251.80" width="1.80" height="17.30" fill="#444444"/><rect x="408.70" y="251.80" width="2.30" height="17.30" fill="#999999"/><rect x="411.00" y="251.80" width="1.70" height="17.30" fill="#cccccc"/><rect x="412.70" y="251.80" width="1.70" height="17.30" fill="#222222"/><rect x="414.40" y="251.80" width="1.70" height="17.30" fill="#dddddd"/><rect x="416.10" y="251.80" width="2.40" height="17.30" fill="#999999"/><rect x="418.50" y="251.80" width="1.70" height="17.30" fill="#777777"/><rect x="420.20" y="251.80" width="1.70" height="17.30" fill="#aaaaaa"/><rect x="421.90" y="251.80" width="2.30" height="17.30" fill="#dddddd"/><rect x="424.20" y="251.80" width="2.30" height="17.30" fill="#999999"/><rect x="426.50" y="251.80" width="1.80" height="17.30" fill="#bbbbbb"/><rect x="430.00" y="251.80" width="4.00" height="17.30" fill="#444444"/><rect x="436.30" y="251.80" width="1.80" height="17.30" fill="#777777"/><rect x="438.10" y="251.80" width="2.30" height="17.30" fill="#333333"/><rect x="441.50" y="251.80" width="1.80" height="17.30" fill="#cccccc"/><rect x="443.30" y="251.80" width="2.30" height="17.30" fill="#777777"/><rect x="447.30" y="251.80" width="1.70" height="17.30" fill="#cccccc"/><rect x="449.00" y="251.80" width="1.70" height="17.30" fill="#222222"/><rect x="450.70" y="251.80" width="2.30" height="17.30" fill="#cccccc"/><rect x="453.00" y="251.80" width="1.80" height="17.30" fill="#aaaaaa"/><rect x="456.50" y="251.80" width="1.40" height="17.30" fill="#aaaaaa"/><rect x="457.90" y="251.80" width="1.10" height="17.30" fill="#777777"/><rect x="459.00" y="251.80" width="1.80" height="17.30" fill="#444444"/><rect x="463.10" y="251.80" width="1.70" height="17.30" fill="#555555"/><rect x="466.00" y="251.80" width="1.70" height="17.30" fill="#666666"/><rect x="468.80" y="251.80" width="1.80" height="17.30" fill="#555555"/><rect x="470.60" y="251.80" width="3.40" height="17.30" fill="#dddddd"/><rect x="474.00" y="251.80" width="2.30" height="17.30" fill="#999999"/><rect x="476.30" y="251.80" width="2.90" height="17.30" fill="#666666"/><rect x="479.20" y="251.80" width="2.90" height="17.30" fill="#cccccc"/><rect x="482.10" y="251.80" width="3.50" height="17.30" fill="#777777"/><rect x="487.30" y="251.80" width="1.70" height="17.30" fill="#111111"/><rect x="493.60" y="251.80" width="1.80" height="17.30" fill="#222222"/><rect x="496.50" y="251.80" width="1.80" height="17.30" fill="#333333"/><rect x="498.30" y="251.80" width="5.70" height="17.30" fill="#cccccc"/><rect x="504.00" y="251.80" width="1.70" height="17.30" fill="#888888"/><rect x="505.70" y="251.80" width="1.80" height="17.30" fill="#dddddd"/><rect x="507.50" y="251.80" width="1.70" height="17.30" fill="#777777"/><rect x="509.20" y="251.80" width="2.80" height="17.30" fill="#cccccc"/>
<defs><linearGradient id="g5_0" gradientUnits="userSpaceOnUse" x1="403.50" y1="0" x2="441.50" y2="0"><stop offset="0" stop-color="#b84e52"/><stop offset="1" stop-color="#cc7080"/></linearGradient><linearGradient id="g5_1" gradientUnits="userSpaceOnUse" x1="441.50" y1="0" x2="459.60" y2="0"><stop offset="0" stop-color="#d8aad6"/><stop offset="1" stop-color="#e6cae8"/></linearGradient><linearGradient id="g5_2" gradientUnits="userSpaceOnUse" x1="459.60" y1="0" x2="487.30" y2="0"><stop offset="0" stop-color="#dcdcf2"/><stop offset="1" stop-color="#c8c8ea"/></linearGradient><linearGradient id="g5_3" gradientUnits="userSpaceOnUse" x1="487.30" y1="0" x2="496.50" y2="0"><stop offset="0" stop-color="#b4b4de"/><stop offset="1" stop-color="#8484c4"/></linearGradient><linearGradient id="g5_4" gradientUnits="userSpaceOnUse" x1="496.50" y1="0" x2="512.10" y2="0"><stop offset="0" stop-color="#6464b2"/><stop offset="1" stop-color="#3c3c94"/></linearGradient></defs><rect x="403.50" y="269.10" width="38.05" height="4.20" fill="url(#g5_0)"/><rect x="441.50" y="269.10" width="18.15" height="4.20" fill="url(#g5_1)"/><rect x="459.60" y="269.10" width="27.75" height="4.20" fill="url(#g5_2)"/><rect x="487.30" y="269.10" width="9.25" height="4.20" fill="url(#g5_3)"/><rect x="496.50" y="269.10" width="15.65" height="4.20" fill="url(#g5_4)"/>
<polyline points="403.30,243.50 403.80,242.48 404.40,239.66 405.00,240.85 405.60,240.42 406.20,242.66 406.80,240.81 407.40,241.70 407.97,237.02 408.53,236.47 409.10,231.61 409.70,235.35 410.30,235.15 410.90,237.68 411.50,237.15 412.10,240.56 412.70,240.67 413.30,244.40 413.90,235.61 414.50,230.22 415.10,225.33 415.70,223.85 416.30,223.79 416.90,227.31 417.50,221.78 418.10,218.90 418.67,218.09 419.23,221.24 419.80,220.77 420.40,222.84 421.00,220.40 421.60,222.45 422.20,222.27 422.80,224.87 423.40,224.77 424.00,227.31 424.60,226.50 425.20,228.98 425.80,228.40 426.40,230.50 427.00,229.72 427.60,230.11 428.20,226.87 428.80,227.09 429.90,228.82 430.50,226.93 431.10,222.09 431.70,220.10 432.30,215.88 432.90,216.73 433.50,212.55 434.10,212.57 434.70,214.02 435.30,218.87 435.90,218.51 436.50,221.89 437.10,222.44 437.70,219.91 438.30,214.26 438.90,212.38 439.45,208.85 440.00,208.78 440.60,202.91 441.20,200.74 441.80,199.98 442.40,202.55 443.00,202.07 443.60,205.80 444.20,205.96 444.80,207.04 445.40,204.96 446.00,205.91 446.60,206.45 447.20,210.23 447.80,211.28 448.40,214.96 448.99,209.18 449.57,206.70 450.16,201.34 450.75,198.84 451.34,199.12 451.93,202.33 452.51,201.76 453.10,205.58 453.70,202.79 454.30,204.10 454.90,201.62 455.45,206.38 456.00,207.68 456.60,210.57 457.20,209.33 457.80,214.36 458.40,216.51 459.00,216.84 459.60,213.44 460.20,214.27 460.80,212.54 461.40,215.89 462.00,216.79 462.57,220.70 463.13,219.58 463.70,223.40 464.30,219.38 464.90,217.94 465.50,217.41 466.10,221.13 466.70,220.27 467.30,221.11 467.90,218.68 468.50,221.93 469.10,221.49 469.70,222.34 470.30,219.50 470.90,223.42 471.50,222.94 472.10,225.61 472.67,225.26 473.23,228.80 473.80,228.40 474.40,232.18 475.00,231.76 475.60,235.48 476.20,235.76 476.80,239.11 477.40,239.72 478.00,239.06 478.60,234.53 479.20,233.77 479.80,233.15 480.40,236.43 481.00,237.33 481.60,241.24 482.20,241.47 482.75,241.95 483.30,238.19 483.90,234.91 484.50,226.75 485.10,223.63 485.70,222.87 486.30,225.88 486.90,226.64 487.50,232.06 488.10,226.65 488.70,225.11 489.30,220.29 489.90,218.91 490.50,218.41 491.10,221.40 491.70,221.41 492.27,227.04 492.85,227.88 493.43,233.58 494.00,234.33 494.60,233.76 495.20,228.91 495.80,228.09 496.40,227.36 497.00,229.27 497.60,220.02 498.20,214.29 498.80,213.53 499.40,217.14 500.00,216.79 500.60,219.84 501.20,219.82 501.80,223.31 502.40,222.90 502.99,226.75 503.57,227.63 504.16,231.57 504.75,232.13 505.32,232.03 505.90,229.17 506.50,231.20 507.10,230.16 507.70,233.13 508.30,231.56 508.90,234.49 509.50,234.02 510.10,236.88 510.70,237.11 511.40,241.85 512.10,244.00" fill="none" stroke="#80b234" stroke-width="1.25" stroke-linejoin="round"/>
<rect x="403.00" y="195.30" width="109.50" height="78.00" fill="none" stroke="#333" stroke-width="1.45" stroke-linejoin="round"/>
<text x="382.99" y="205.30" font-size="7.9" textLength="16.97" lengthAdjust="spacingAndGlyphs" fill="#262626" stroke="#262626" stroke-width="0.13">0.08</text>
<text x="382.99" y="216.10" font-size="7.9" textLength="16.97" lengthAdjust="spacingAndGlyphs" fill="#262626" stroke="#262626" stroke-width="0.13">0.06</text>
<text x="382.91" y="227.10" font-size="7.9" textLength="16.97" lengthAdjust="spacingAndGlyphs" fill="#262626" stroke="#262626" stroke-width="0.13">0.04</text>
<text x="383.08" y="238.00" font-size="7.9" textLength="16.97" lengthAdjust="spacingAndGlyphs" fill="#262626" stroke="#262626" stroke-width="0.13">0.02</text>
<text x="382.95" y="248.90" font-size="7.9" textLength="16.97" lengthAdjust="spacingAndGlyphs" fill="#262626" stroke="#262626" stroke-width="0.13">0.00</text>
<path d="M376.80 199.70V249.50" stroke="#555" stroke-width="1.2"/>
<path d="M376.80 194.50L380.20 202.50L376.80 201.70L373.40 202.50Z" fill="#111"/>
<text transform="translate(371.29,226.32) rotate(-90)" x="0" y="0" font-size="10.99" textLength="8.75" lengthAdjust="spacingAndGlyphs" fill="#1a1a1a" stroke="#1a1a1a" stroke-width="0.15">ES</text>
<text x="429.14" y="177.50" font-size="10.2" textLength="56.54" lengthAdjust="spacingAndGlyphs" fill="#111" stroke="#111" stroke-width="0.3">HALLMARK_</text>
<text x="406.90" y="189.70" font-size="10.2" textLength="101.81" lengthAdjust="spacingAndGlyphs" fill="#111" stroke="#111" stroke-width="0.3">MTORC1_SIGNALING</text>
<text x="464.27" y="204.70" font-size="8.3" textLength="36.08" lengthAdjust="spacingAndGlyphs" fill="#1a1a1a" stroke="#1a1a1a" stroke-width="0.22">NES: 1.43</text>
<text x="464.29" y="214.80" font-size="8.3" textLength="39.08" lengthAdjust="spacingAndGlyphs" fill="#1a1a1a" stroke="#1a1a1a" stroke-width="0.22">FDR: 0.141</text>
<text x="402.97" y="283.60" font-size="8.3" textLength="24.88" lengthAdjust="spacingAndGlyphs" fill="#222" stroke="#222" stroke-width="0.14">control</text>
<text x="487.86" y="283.60" font-size="8.3" textLength="25.40" lengthAdjust="spacingAndGlyphs" fill="#222" stroke="#222" stroke-width="0.14">control</text>
<text x="488.20" y="294.10" font-size="8.3" textLength="17.87" lengthAdjust="spacingAndGlyphs" fill="#222" stroke="#222" stroke-width="0.14">PML</text>
<text x="505.93" y="290.80" font-size="5.0" textLength="5.63" lengthAdjust="spacingAndGlyphs" fill="#444" stroke="#444" stroke-width="0.02">-/-</text>
<path d="M95.0 334.0V437" stroke="#626b80" stroke-width="1.3" stroke-dasharray="3.1,2.3"/>
<path d="M137.6 334.0V437" stroke="#626b80" stroke-width="1.3" stroke-dasharray="3.1,2.3"/>
<path d="M181.8 334.0V437" stroke="#626b80" stroke-width="1.3" stroke-dasharray="3.1,2.3"/>
<path d="M58.4 333.2V464.8" stroke="#111" stroke-width="1.1"/>
<path d="M58.4 437.4H251.6" stroke="#111" stroke-width="1.1"/>
<path d="M55.1 336.10H58.4 M55.1 361.42H58.4 M55.1 386.75H58.4 M55.1 412.07H58.4 M55.1 437.40H58.4 M55.1 462.72H58.4 M96.40 437.4V440.8 M134.55 437.4V440.8 M172.70 437.4V440.8 M210.85 437.4V440.8 M249.00 437.4V440.8" stroke="#111" stroke-width="1"/>
<text x="37.42" y="339.10" font-size="7.9" textLength="15.03" lengthAdjust="spacingAndGlyphs" fill="#222" stroke="#222" stroke-width="0.13">400</text>
<text x="37.24" y="364.42" font-size="7.9" textLength="15.22" lengthAdjust="spacingAndGlyphs" fill="#222" stroke="#222" stroke-width="0.13">300</text>
<text x="37.14" y="389.75" font-size="7.9" textLength="15.31" lengthAdjust="spacingAndGlyphs" fill="#222" stroke="#222" stroke-width="0.13">200</text>
<text x="36.90" y="415.07" font-size="7.9" textLength="15.56" lengthAdjust="spacingAndGlyphs" fill="#222" stroke="#222" stroke-width="0.13">100</text>
<text x="46.79" y="440.40" font-size="7.9" textLength="5.68" lengthAdjust="spacingAndGlyphs" fill="#222" stroke="#222" stroke-width="0.13">0</text>
<text x="32.65" y="465.72" font-size="7.9" textLength="19.81" lengthAdjust="spacingAndGlyphs" fill="#222" stroke="#222" stroke-width="0.13">-100</text>
<text x="91.46" y="450.90" font-size="7.9" textLength="9.88" lengthAdjust="spacingAndGlyphs" fill="#222" stroke="#222" stroke-width="0.13">20</text>
<text x="129.63" y="450.90" font-size="7.9" textLength="9.49" lengthAdjust="spacingAndGlyphs" fill="#222" stroke="#222" stroke-width="0.13">40</text>
<text x="167.54" y="450.90" font-size="7.9" textLength="10.31" lengthAdjust="spacingAndGlyphs" fill="#222" stroke="#222" stroke-width="0.13">60</text>
<text x="204.97" y="450.90" font-size="7.9" textLength="10.58" lengthAdjust="spacingAndGlyphs" fill="#222" stroke="#222" stroke-width="0.13">80</text>
<text x="242.07" y="450.90" font-size="7.9" textLength="14.06" lengthAdjust="spacingAndGlyphs" fill="#222" stroke="#222" stroke-width="0.13">100</text>
<text x="130.46" y="464.70" font-size="10.0" textLength="46.46" lengthAdjust="spacingAndGlyphs" fill="#1a1a1a" stroke="#1a1a1a" stroke-width="0.35">Time (minutes)</text>
<text transform="translate(30.00,425.12) rotate(-90)" x="0" y="0" font-size="10.40" textLength="51.06" lengthAdjust="spacingAndGlyphs" fill="#1a1a1a" stroke="#1a1a1a" stroke-width="0.3">OCR (pmol/min)</text>
<text x="74.74" y="329.30" font-size="8.0" textLength="40.10" lengthAdjust="spacingAndGlyphs" fill="#586075" stroke="#586075" stroke-width="0.02">Oligomycin</text>
<text x="126.21" y="329.30" font-size="8.0" textLength="23.65" lengthAdjust="spacingAndGlyphs" fill="#586075" stroke="#586075" stroke-width="0.02">FCCP</text>
<text x="161.20" y="329.40" font-size="8.0" textLength="41.83" lengthAdjust="spacingAndGlyphs" fill="#586075" stroke="#586075" stroke-width="0.02">Antimycin A</text>
<polyline points="60.8,424.8 75.2,425.2 89.7,425.6 104.6,434.3 119.0,433.4 133.4,431.3 148.5,394.1 162.9,402.3 177.3,406.3 192.5,440.8 206.9,439.0 221.3,439.1" fill="none" stroke="#4b1c68" stroke-width="1.3" stroke-linejoin="round"/>
<circle cx="60.8" cy="424.8" r="2.4" fill="#5a2a72" stroke="#111" stroke-width="1.0"/><circle cx="75.2" cy="425.2" r="2.4" fill="#5a2a72" stroke="#111" stroke-width="1.0"/><circle cx="89.7" cy="425.6" r="2.4" fill="#5a2a72" stroke="#111" stroke-width="1.0"/><circle cx="104.6" cy="434.3" r="2.4" fill="#5a2a72" stroke="#111" stroke-width="1.0"/><circle cx="119.0" cy="433.4" r="2.4" fill="#5a2a72" stroke="#111" stroke-width="1.0"/><circle cx="133.4" cy="431.3" r="2.4" fill="#5a2a72" stroke="#111" stroke-width="1.0"/><circle cx="148.5" cy="394.1" r="2.4" fill="#5a2a72" stroke="#111" stroke-width="1.0"/><circle cx="162.9" cy="402.3" r="2.4" fill="#5a2a72" stroke="#111" stroke-width="1.0"/><circle cx="177.3" cy="406.3" r="2.4" fill="#5a2a72" stroke="#111" stroke-width="1.0"/><circle cx="192.5" cy="440.8" r="2.4" fill="#5a2a72" stroke="#111" stroke-width="1.0"/><circle cx="206.9" cy="439.0" r="2.4" fill="#5a2a72" stroke="#111" stroke-width="1.0"/><circle cx="221.3" cy="439.1" r="2.4" fill="#5a2a72" stroke="#111" stroke-width="1.0"/>
<polyline points="60.8,421.0 75.2,423.1 89.7,422.2 104.6,427.6 119.0,426.6 133.4,425.2 148.5,390.2 162.9,396.7 177.3,402.7 192.5,437.4 206.9,436.1 221.3,436.4" fill="none" stroke="#9a92d6" stroke-width="1.3" stroke-linejoin="round"/>
<circle cx="60.8" cy="421.0" r="2.4" fill="#a39cdb" stroke="#111" stroke-width="1.0"/><circle cx="75.2" cy="423.1" r="2.4" fill="#a39cdb" stroke="#111" stroke-width="1.0"/><circle cx="89.7" cy="422.2" r="2.4" fill="#a39cdb" stroke="#111" stroke-width="1.0"/><circle cx="104.6" cy="427.6" r="2.4" fill="#a39cdb" stroke="#111" stroke-width="1.0"/><circle cx="119.0" cy="426.6" r="2.4" fill="#a39cdb" stroke="#111" stroke-width="1.0"/><circle cx="133.4" cy="425.2" r="2.4" fill="#a39cdb" stroke="#111" stroke-width="1.0"/><circle cx="148.5" cy="390.2" r="2.4" fill="#a39cdb" stroke="#111" stroke-width="1.0"/><circle cx="162.9" cy="396.7" r="2.4" fill="#a39cdb" stroke="#111" stroke-width="1.0"/><circle cx="177.3" cy="402.7" r="2.4" fill="#a39cdb" stroke="#111" stroke-width="1.0"/><circle cx="192.5" cy="437.4" r="2.4" fill="#a39cdb" stroke="#111" stroke-width="1.0"/><circle cx="206.9" cy="436.1" r="2.4" fill="#a39cdb" stroke="#111" stroke-width="1.0"/><circle cx="221.3" cy="436.4" r="2.4" fill="#a39cdb" stroke="#111" stroke-width="1.0"/>
<polyline points="60.8,404.8 75.2,406.0 89.7,404.6 104.6,424.3 119.0,423.2 133.4,421.4 148.5,348.7 162.9,355.3 177.3,361.5 192.5,429.8 206.9,427.7 221.3,428.6" fill="none" stroke="#f09a1c" stroke-width="1.3" stroke-linejoin="round"/>
<path d="M148.5 344.5V352.9M146.2 344.5H150.8M146.2 352.9H150.8M162.9 351.4V359.2M160.6 351.4H165.2M160.6 359.2H165.2M177.3 357.5V365.5M175.0 357.5H179.6M175.0 365.5H179.6" stroke="#111" stroke-width="1"/>
<circle cx="60.8" cy="404.8" r="2.4" fill="#f39d17" stroke="#111" stroke-width="1.0"/><circle cx="75.2" cy="406.0" r="2.4" fill="#f39d17" stroke="#111" stroke-width="1.0"/><circle cx="89.7" cy="404.6" r="2.4" fill="#f39d17" stroke="#111" stroke-width="1.0"/><circle cx="104.6" cy="424.3" r="2.4" fill="#f39d17" stroke="#111" stroke-width="1.0"/><circle cx="119.0" cy="423.2" r="2.4" fill="#f39d17" stroke="#111" stroke-width="1.0"/><circle cx="133.4" cy="421.4" r="2.4" fill="#f39d17" stroke="#111" stroke-width="1.0"/><circle cx="148.5" cy="348.7" r="2.4" fill="#f39d17" stroke="#111" stroke-width="1.0"/><circle cx="162.9" cy="355.3" r="2.4" fill="#f39d17" stroke="#111" stroke-width="1.0"/><circle cx="177.3" cy="361.5" r="2.4" fill="#f39d17" stroke="#111" stroke-width="1.0"/><circle cx="192.5" cy="429.8" r="2.4" fill="#f39d17" stroke="#111" stroke-width="1.0"/><circle cx="206.9" cy="427.7" r="2.4" fill="#f39d17" stroke="#111" stroke-width="1.0"/><circle cx="221.3" cy="428.6" r="2.4" fill="#f39d17" stroke="#111" stroke-width="1.0"/>
<polyline points="60.8,425.2 75.2,425.0 89.7,425.5 104.6,428.4 119.0,427.3 133.4,425.8 148.5,398.5 162.9,402.8 177.3,406.9 192.5,433.0 206.9,431.8 221.3,432.2" fill="none" stroke="#5fae35" stroke-width="1.3" stroke-linejoin="round"/>
<circle cx="60.8" cy="425.2" r="2.4" fill="#6cbf4a" stroke="#111" stroke-width="1.0"/><circle cx="75.2" cy="425.0" r="2.4" fill="#6cbf4a" stroke="#111" stroke-width="1.0"/><circle cx="89.7" cy="425.5" r="2.4" fill="#6cbf4a" stroke="#111" stroke-width="1.0"/><circle cx="104.6" cy="428.4" r="2.4" fill="#6cbf4a" stroke="#111" stroke-width="1.0"/><circle cx="119.0" cy="427.3" r="2.4" fill="#6cbf4a" stroke="#111" stroke-width="1.0"/><circle cx="133.4" cy="425.8" r="2.4" fill="#6cbf4a" stroke="#111" stroke-width="1.0"/><circle cx="148.5" cy="398.5" r="2.4" fill="#6cbf4a" stroke="#111" stroke-width="1.0"/><circle cx="162.9" cy="402.8" r="2.4" fill="#6cbf4a" stroke="#111" stroke-width="1.0"/><circle cx="177.3" cy="406.9" r="2.4" fill="#6cbf4a" stroke="#111" stroke-width="1.0"/><circle cx="192.5" cy="433.0" r="2.4" fill="#6cbf4a" stroke="#111" stroke-width="1.0"/><circle cx="206.9" cy="431.8" r="2.4" fill="#6cbf4a" stroke="#111" stroke-width="1.0"/><circle cx="221.3" cy="432.2" r="2.4" fill="#6cbf4a" stroke="#111" stroke-width="1.0"/>
<path d="M231.9 333.2H248.7" stroke="#5fae35" stroke-width="1.2"/>
<circle cx="240.4" cy="333.2" r="3.1" fill="#6cbf4a" stroke="#111" stroke-width="1.0"/>
<path d="M231.9 345.6H248.7" stroke="#4b1c68" stroke-width="1.2"/>
<circle cx="240.4" cy="345.6" r="3.1" fill="#5a2a72" stroke="#111" stroke-width="1.0"/>
<path d="M231.9 357.6H248.7" stroke="#f09a1c" stroke-width="1.2"/>
<circle cx="240.4" cy="357.6" r="3.1" fill="#f39d17" stroke="#111" stroke-width="1.0"/>
<path d="M231.9 369.8H248.7" stroke="#9a92d6" stroke-width="1.2"/>
<circle cx="240.4" cy="369.8" r="3.1" fill="#a39cdb" stroke="#111" stroke-width="1.0"/>
<text x="251.98" y="335.90" font-size="7.9" textLength="23.64" lengthAdjust="spacingAndGlyphs" fill="#222" stroke="#222" stroke-width="0.14">control</text>
<text x="252.00" y="348.10" font-size="7.9" textLength="40.13" lengthAdjust="spacingAndGlyphs" fill="#222" stroke="#222" stroke-width="0.14">control PML</text>
<text x="292.75" y="344.40" font-size="4.8" textLength="5.19" lengthAdjust="spacingAndGlyphs" fill="#333" stroke="#333" stroke-width="0.15">-/-</text>
<text x="252.20" y="360.80" font-size="7.9" textLength="22.06" lengthAdjust="spacingAndGlyphs" font-style="italic" fill="#222" stroke="#222" stroke-width="0.14">ELANE</text>
<text x="274.20" y="360.80" font-size="7.9" textLength="20.75" lengthAdjust="spacingAndGlyphs" fill="#222" stroke="#222" stroke-width="0.14">-I60F</text>
<text x="252.20" y="372.90" font-size="7.9" textLength="22.06" lengthAdjust="spacingAndGlyphs" font-style="italic" fill="#222" stroke="#222" stroke-width="0.14">ELANE</text>
<text x="276.07" y="372.90" font-size="7.9" textLength="18.82" lengthAdjust="spacingAndGlyphs" fill="#222" stroke="#222" stroke-width="0.14">PML</text>
<text x="294.93" y="369.20" font-size="4.8" textLength="5.74" lengthAdjust="spacingAndGlyphs" fill="#333" stroke="#333" stroke-width="0.15">-/-</text>
<path d="M370.5 339.6V438.0" stroke="#111" stroke-width="1.1"/>
<path d="M370.0 437.5H509.8" stroke="#111" stroke-width="1.1"/>
<path d="M367.3 437.50H370.5 M367.3 418.53H370.5 M367.3 399.56H370.5 M367.3 380.59H370.5 M367.3 361.62H370.5 M367.3 342.65H370.5 M391.7 437.5V440.5 M424.55 437.5V440.5 M457.45 437.5V440.5 M490.55 437.5V440.5" stroke="#111" stroke-width="1"/>
<text x="358.23" y="439.85" font-size="7.4" textLength="5.10" lengthAdjust="spacingAndGlyphs" fill="#222" stroke="#222" stroke-width="0.13">0</text>
<text x="353.35" y="420.88" font-size="7.4" textLength="9.98" lengthAdjust="spacingAndGlyphs" fill="#222" stroke="#222" stroke-width="0.13">20</text>
<text x="353.63" y="401.91" font-size="7.4" textLength="9.70" lengthAdjust="spacingAndGlyphs" fill="#222" stroke="#222" stroke-width="0.13">40</text>
<text x="353.35" y="382.94" font-size="7.4" textLength="9.98" lengthAdjust="spacingAndGlyphs" fill="#222" stroke="#222" stroke-width="0.13">60</text>
<text x="353.40" y="363.97" font-size="7.4" textLength="9.94" lengthAdjust="spacingAndGlyphs" fill="#222" stroke="#222" stroke-width="0.13">80</text>
<text x="349.37" y="345.00" font-size="7.4" textLength="13.95" lengthAdjust="spacingAndGlyphs" fill="#222" stroke="#222" stroke-width="0.13">100</text>
<path d="M391.70 417.0V412.2M386.30 412.2H397.10" stroke="#111" stroke-width="1.1"/>
<rect x="381.1" y="417.0" width="21.20" height="20.50" fill="#67a743"/>
<path d="M424.55 406.1V402.4M419.15 402.4H429.95" stroke="#111" stroke-width="1.1"/>
<rect x="414.2" y="406.1" width="20.70" height="31.40" fill="#502664"/>
<path d="M457.45 370.1V364.7M452.05 364.7H462.85" stroke="#111" stroke-width="1.1"/>
<rect x="447.0" y="370.1" width="20.90" height="67.40" fill="#de8a1a"/>
<path d="M490.55 392.8V390.0M485.15 390.0H495.95" stroke="#111" stroke-width="1.1"/>
<rect x="480.1" y="392.8" width="20.90" height="44.70" fill="#8a80bc"/>
<path d="M391.1 341.3H490.8M391.1 350.4H457.3M424.6 359.6H456.1M460.2 359.6H490.8" stroke="#222" stroke-width="1.15"/>
<g fill="#222"><rect x="437.15" y="336.35" width="1.7" height="1.7"/><rect x="440.15" y="336.35" width="1.7" height="1.7"/><rect x="443.15" y="336.35" width="1.7" height="1.7"/><rect x="418.75" y="345.25" width="1.7" height="1.7"/><rect x="421.95" y="345.25" width="1.7" height="1.7"/><rect x="425.05" y="345.25" width="1.7" height="1.7"/><rect x="428.25" y="345.25" width="1.7" height="1.7"/><rect x="434.85" y="354.55" width="1.7" height="1.7"/><rect x="438.05" y="354.55" width="1.7" height="1.7"/><rect x="441.25" y="354.55" width="1.7" height="1.7"/><rect x="444.45" y="354.55" width="1.7" height="1.7"/><rect x="471.75" y="354.55" width="1.7" height="1.7"/><rect x="474.65" y="354.55" width="1.7" height="1.7"/><rect x="477.55" y="354.55" width="1.7" height="1.7"/></g>
<text transform="translate(333.70,412.60) rotate(-90)" x="0" y="0" font-size="8.80" textLength="46.25" lengthAdjust="spacingAndGlyphs" fill="#1a1a1a" stroke="#1a1a1a" stroke-width="0.3">ATP production</text>
<text transform="translate(344.30,414.61) rotate(-90)" x="0" y="0" font-size="8.80" textLength="50.15" lengthAdjust="spacingAndGlyphs" fill="#1a1a1a" stroke="#1a1a1a" stroke-width="0.3">OCR (pmol/min)</text>
<g transform="translate(395.00,446.80) rotate(-45)"><text x="-15.01" y="0.00" text-anchor="middle" font-size="10.0" fill="#1a1a1a" stroke="#1a1a1a" stroke-width="0.15">control</text></g>
<g transform="translate(427.90,446.80) rotate(-45)"><text x="-15.01" y="0.00" text-anchor="middle" font-size="10.0" fill="#1a1a1a" stroke="#1a1a1a" stroke-width="0.15">control</text><text x="-15.01" y="11.50" text-anchor="middle" font-size="10.0" fill="#1a1a1a" stroke="#1a1a1a" stroke-width="0.15">PML-/-</text></g>
<g transform="translate(460.90,446.80) rotate(-45)"><text x="-16.40" y="0.00" text-anchor="middle" font-size="10.0" fill="#1a1a1a" stroke="#1a1a1a" stroke-width="0.15">ELANE</text><text x="-15.60" y="11.20" text-anchor="middle" font-size="10.0" fill="#1a1a1a" stroke="#1a1a1a" stroke-width="0.15">I60F</text></g>
<g transform="translate(494.00,446.80) rotate(-45)"><text x="-16.40" y="0.00" text-anchor="middle" font-size="10.0" fill="#1a1a1a" stroke="#1a1a1a" stroke-width="0.15">ELANE</text><text x="-16.40" y="11.50" text-anchor="middle" font-size="10.0" fill="#1a1a1a" stroke="#1a1a1a" stroke-width="0.15">PML-/-</text></g>
<rect x="0.5" y="0.5" width="519" height="487" fill="none" stroke="#000" stroke-width="1"/>
</svg>
</body></html>
